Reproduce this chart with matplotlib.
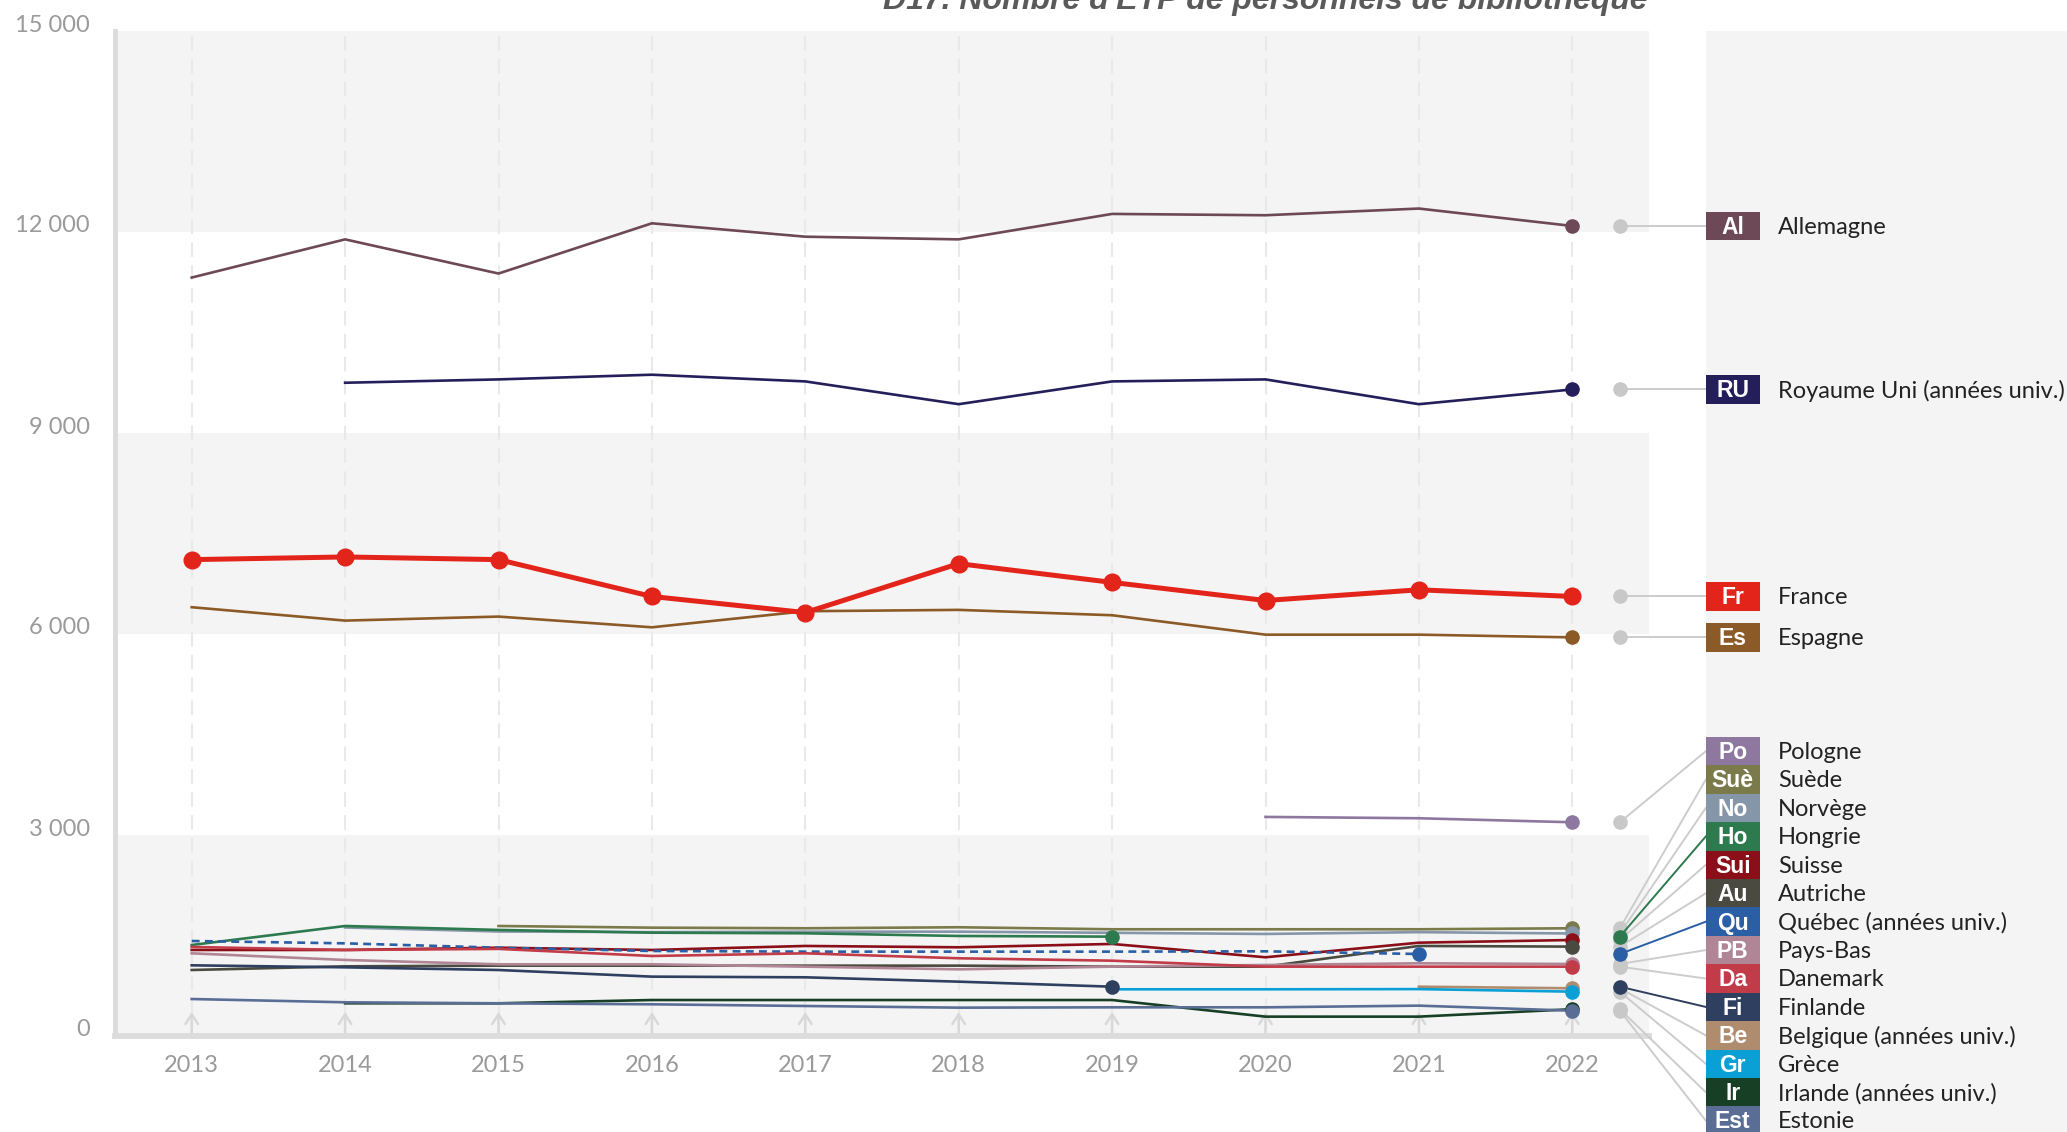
import numpy as np
import matplotlib.pyplot as plt
from matplotlib.patches import Rectangle
import matplotlib.transforms as mtransforms

# ---------------- data ----------------
years = [2013, 2014, 2015, 2016, 2017, 2018, 2019, 2020, 2021, 2022]
N = None

names = ["Allemagne", "Royaume Uni (années univ.)", "France", "Espagne",
         "Pologne", "Suède", "Norvège", "Hongrie", "Suisse", "Autriche",
         "Québec (années univ.)", "Pays-Bas", "Danemark", "Finlande",
         "Belgique (années univ.)", "Grèce", "Irlande (années univ.)", "Estonie"]
abbrev = ["Al", "RU", "Fr", "Es", "Po", "Suè", "No", "Ho", "Sui", "Au",
          "Qu", "PB", "Da", "Fi", "Be", "Gr", "Ir", "Est"]
colors = ["#6d4856", "#241f5a", "#e3241b", "#8c5a27", "#8e78a0", "#7b7a4a",
          "#8596a8", "#2d7a4f", "#8a0f18", "#4a4a40", "#2a5ea5", "#b08596",
          "#c23b48", "#2f3f5f", "#b08c6e", "#0aa0d6", "#173f25", "#5a6e95"]

allemagne = [11320, 11890, 11380, 12130, 11930, 11890, 12270, 12250, 12350, 12090]
royaume_uni = [N, 9750, 9800, 9870, 9770, 9430, 9770, 9800, 9430, 9650]
france = [7110, 7150, 7110, 6560, 6320, 7050, 6770, 6500, 6660, 6560]
espagne = [6400, 6200, 6260, 6100, 6340, 6360, 6280, 5990, 5990, 5950]
pologne = [N, N, N, N, N, N, N, 3270, 3250, 3190]
suede = [N, N, 1642, 1617, 1608, 1623, 1593, 1593, 1593, 1608]
norvege = [N, 1620, 1560, 1550, 1557, 1557, 1540, 1523, 1550, 1530]
hongrie = [1358, 1642, 1583, 1542, 1533, 1493, 1483, N, N, N]
suisse = [1284, 1284, 1318, 1284, 1344, 1324, 1374, 1175, 1393, 1433]
autriche = [985, 1040, 1050, 1050, 1050, 1050, 1035, 1035, 1344, 1334]
quebec = [1418, 1383, 1318, 1269, 1259, 1259, 1259, 1264, 1224, N]
pays_bas = [1234, 1135, 1070, 1070, 1035, 995, 1035, 1060, 1085, 1075]
danemark = [1329, 1284, 1300, 1194, 1234, 1160, 1124, 1035, 1035, 1035]
finlande = [1055, 1025, 985, 886, 876, 811, 736, N, N, N]
belgique = [N, N, N, N, N, N, N, N, 736, 712]
grece = [N, N, N, N, N, N, 697, 697, 700, 662]
irlande = [N, 488, 488, 537, 537, 537, 537, 289, 289, 400]
estonie = [552, 503, 488, 473, 448, 423, 428, 428, 453, 378]

series = [allemagne, royaume_uni, france, espagne, pologne, suede, norvege,
          hongrie, suisse, autriche, quebec, pays_bas, danemark, finlande,
          belgique, grece, irlande, estonie]

yticks = [0, 3000, 6000, 9000, 12000, 15000]
ytick_labels = ["0", "3 000", "6 000", "9 000", "12 000", "15 000"]
highlight = ["Hongrie", "Québec (années univ.)", "Finlande"]
title = "D17. Nombre d'ETP de personnels de bibliothèque"

# ---------------- figure ----------------
fig = plt.figure(figsize=(20.67, 11.32), dpi=100)
ax = fig.add_axes([115/2067, 96/1132, 1534/2067, 1005/1132])
ax.set_facecolor("none")
ax.set_xlim(2012.5, 2022.5)
ax.set_ylim(0, 15000)

# right grey panel
fig.patches.append(Rectangle((1706/2067, 0), 1, (1132-31)/1132, transform=fig.transFigure,
                             facecolor="#f4f4f4", edgecolor="none", zorder=-5))

# bands
for lo in [0, 6000, 12000]:
    ax.axhspan(lo, lo + 3000, color="#f4f4f4", zorder=0, lw=0)

# dashed year lines + little arrows
for yr in years:
    ax.axvline(yr, color="#e9e9e9", lw=1.5, dashes=(7, 4), zorder=1)
    ax.annotate("", xy=(yr, 400), xytext=(yr, 0),
                arrowprops=dict(arrowstyle="->,head_length=0.7,head_width=0.45",
                                color="#d8d8d8", lw=1.8), zorder=1)

x = np.array(years, dtype=float)
for i, (nm, s, c) in enumerate(zip(names, series, colors)):
    y = np.array([np.nan if v is None else v for v in s], dtype=float)
    last = np.where(~np.isnan(y))[0][-1]
    if nm == "France":
        ax.plot(x, y, color=c, lw=3.6, marker="o", ms=12, zorder=10, solid_capstyle="round")
    else:
        ls = (0, (3, 2)) if nm.startswith("Québec") else "-"
        ax.plot(x, y, color=c, lw=1.9, ls=ls, zorder=5 + i * 0.01)
        ax.plot(x[last], y[last], "o", color=c, ms=9.5, zorder=6)

# y ticks
ax.set_yticks(yticks)
ax.set_yticklabels(ytick_labels)
ax.tick_params(axis="y", length=0, pad=18, labelsize=17, labelcolor="#9a9a9a")
off = mtransforms.ScaledTranslation(0, 8/100, fig.dpi_scale_trans)
for lab in ax.get_yticklabels():
    lab.set_transform(lab.get_transform() + off)
    lab.set_fontfamily(["Lato", "DejaVu Sans"])
ax.set_xticks(years)
ax.set_xticklabels([str(v) for v in years])
ax.tick_params(axis="x", length=0, pad=14, labelsize=17, labelcolor="#9a9a9a")
for lab in ax.get_xticklabels():
    lab.set_fontfamily(["Lato", "DejaVu Sans"])

for sp in ["top", "right"]:
    ax.spines[sp].set_visible(False)
ax.spines["left"].set_color("#dcdcdc")
ax.spines["left"].set_linewidth(3.6)
ax.spines["bottom"].set_color("#dcdcdc")
ax.spines["bottom"].set_linewidth(4.2)
ax.spines["left"].set_zorder(2)

# ---------------- labels on the right ----------------
col_x = 2022.31
box_x0 = 2022.87
box_w = 0.352
step = 424
label_y = []
for i, s in enumerate(series):
    vals = [v for v in s if v is not None]
    if i < 4:
        label_y.append(vals[-1])
    else:
        label_y.append(4250 - (i - 4) * step)

for i, (nm, ab, s, c) in enumerate(zip(names, abbrev, series, colors)):
    last_val = [v for v in s if v is not None][-1]
    ly = label_y[i]
    hl = nm in highlight
    lc = c if hl else "#cccccc"
    ax.plot([col_x, box_x0], [last_val, ly], color=lc, lw=1.4, clip_on=False, zorder=3 + hl)
    ax.plot(col_x, last_val, "o", color=c if hl else "#c8c8c8", ms=9.5,
            clip_on=False, zorder=4 + hl)
    ax.add_patch(Rectangle((box_x0, ly - step / 2), box_w, step, facecolor=c,
                           edgecolor="none", clip_on=False, zorder=7))
    ax.text(box_x0 + box_w / 2, ly - 20, ab, color="white", fontsize=16.5, fontweight="bold",
            family=["Liberation Sans", "DejaVu Sans"], ha="center", va="center",
            clip_on=False, zorder=8)
    ax.text(box_x0 + box_w + 0.12, ly - 20, nm, color="#222222", fontsize=17,
            family=["Lato", "DejaVu Sans"], ha="left", va="center", clip_on=False, zorder=8)

fig.text(1265/2067, 1 - 9/1132, title, ha="center", va="baseline", fontsize=23,
         fontweight="bold", fontstyle="italic", color="#5a5a5a",
         family=["Liberation Sans Narrow", "Liberation Sans", "DejaVu Sans"])

fig.savefig("out.png", dpi=100)
